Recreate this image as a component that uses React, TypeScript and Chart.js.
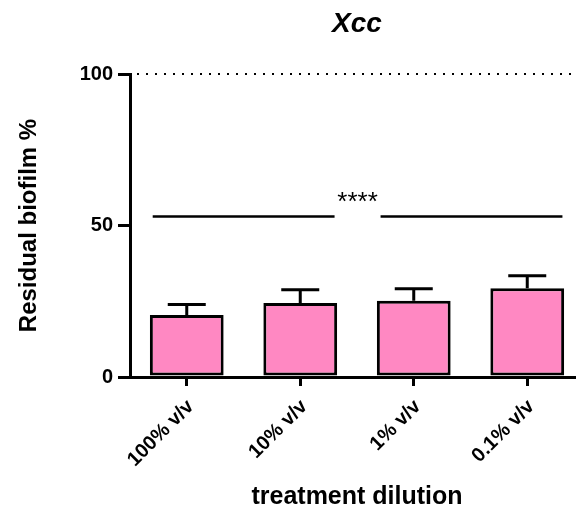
import React, { useEffect, useRef } from "react";
import { Chart, registerables } from "chart.js";

Chart.register(...registerables);

const categories = ["100% v/v", "10% v/v", "1% v/v", "0.1% v/v"];
const means = [20.5, 24.4, 25.2, 29.3];
const sds = [3.4, 4.4, 3.9, 4.1];
const yTicks = [0, 50, 100];
const sigLevel = 53;
const sigLabel = "****";
const titleText = "Xcc";
const yTitle = "Residual biofilm %";
const xTitle = "treatment dilution";

const FONT = "'Liberation Sans', Arial, sans-serif";

const extras = {
  id: "extras",
  afterDatasetsDraw(chart: any) {
    const ctx = chart.ctx;
    const xs = chart.scales.x;
    const ys = chart.scales.y;
    const area = chart.chartArea;
    ctx.save();
    // error bars
    const meta = chart.getDatasetMeta(0);
    ctx.strokeStyle = "#000";
    ctx.lineWidth = 3;
    meta.data.forEach((bar: any, i: number) => {
      const x = bar.x;
      const yTop = ys.getPixelForValue(means[i] + sds[i]);
      const yBar = ys.getPixelForValue(means[i]);
      ctx.beginPath();
      ctx.moveTo(x, yBar);
      ctx.lineTo(x, yTop);
      ctx.moveTo(x - 19, yTop);
      ctx.lineTo(x + 19, yTop);
      ctx.stroke();
    });
    // dotted line at max
    ctx.save();
    ctx.setLineDash([2, 7]);
    ctx.lineWidth = 2;
    ctx.beginPath();
    const yMax = ys.getPixelForValue(yTicks[yTicks.length - 1]);
    ctx.moveTo(area.left + 7, yMax);
    ctx.lineTo(area.right + 20, yMax);
    ctx.stroke();
    ctx.restore();
    // significance
    const cw = xs.getPixelForValue(1) - xs.getPixelForValue(0);
    const x0 = xs.getPixelForValue(0) - 0.3 * cw;
    const x1 = xs.getPixelForValue(categories.length - 1) + 0.31 * cw;
    const ySig = ys.getPixelForValue(sigLevel);
    const mid = (x0 + x1) / 2;
    ctx.lineWidth = 2.5;
    ctx.beginPath();
    ctx.moveTo(x0, ySig);
    ctx.lineTo(mid - 23, ySig);
    ctx.moveTo(mid + 23, ySig);
    ctx.lineTo(x1, ySig);
    ctx.stroke();
    ctx.fillStyle = "#000";
    ctx.font = `26px ${FONT}`;
    ctx.textAlign = "center";
    ctx.textBaseline = "middle";
    ctx.fillText(sigLabel, mid, ySig - 14);
    // title
    ctx.font = `italic bold 28px ${FONT}`;
    ctx.textAlign = "center";
    ctx.textBaseline = "middle";
    ctx.fillText(titleText, (area.left + area.right) / 2, 24);
    ctx.restore();
  },
};

export default function App() {
  const ref = useRef<HTMLCanvasElement>(null);
  useEffect(() => {
    if (!ref.current) return;
    const chart = new Chart(ref.current, {
      type: "bar",
      data: {
        labels: categories,
        datasets: [
          {
            data: means,
            backgroundColor: "#FF88C2",
            borderColor: "#000",
            borderWidth: 3,
            borderSkipped: false,
            categoryPercentage: 1,
            barPercentage: 0.65,
          },
        ],
      },
      options: {
        animation: false,
        responsive: false,
        maintainAspectRatio: false,
        layout: { padding: { top: 74, right: 16, bottom: 0, left: 0 } },
        plugins: { legend: { display: false }, tooltip: { enabled: false }, title: { display: false } },
        scales: {
          x: {
            afterFit: (s: any) => {
              s.height = 135;
            },
            grid: { display: true, drawOnChartArea: false, offset: false, tickLength: 9, color: "#000", lineWidth: 3 },
            border: { display: true, color: "#000", width: 3 },
            ticks: {
              color: "#000",
              minRotation: 45,
              maxRotation: 45,
              padding: 9,
              labelOffset: 4,
              font: { family: FONT, size: 20, weight: "bold" },
            },
            title: {
              display: true,
              text: xTitle,
              color: "#000",
              font: { family: FONT, size: 25, weight: "bold" },
              padding: { top: 0, bottom: 0 },
            },
          },
          y: {
            min: 0,
            max: 100,
            afterFit: (s: any) => {
              s.width = 130;
            },
            afterBuildTicks: (s: any) => {
              s.ticks = yTicks.map((v) => ({ value: v }));
            },
            grid: { display: true, drawOnChartArea: false, tickLength: 12, color: "#000", lineWidth: 3 },
            border: { display: true, color: "#000", width: 3 },
            ticks: {
              color: "#000",
              padding: 5,
              font: { family: FONT, size: 20, weight: "bold" },
            },
            title: {
              display: true,
              text: yTitle,
              color: "#000",
              font: { family: FONT, size: 24, weight: "bold" },
              padding: { top: 15, bottom: 0 },
            },
          },
        },
      },
      plugins: [extras],
    });
    return () => chart.destroy();
  }, []);
  return (
    <div style={{ position: "fixed", left: 0, top: 0, width: 576, height: 512, overflow: "hidden", background: "#fff" }}>
      <canvas ref={ref} width={600} height={512} style={{ display: "block" }} />
    </div>
  );
}
